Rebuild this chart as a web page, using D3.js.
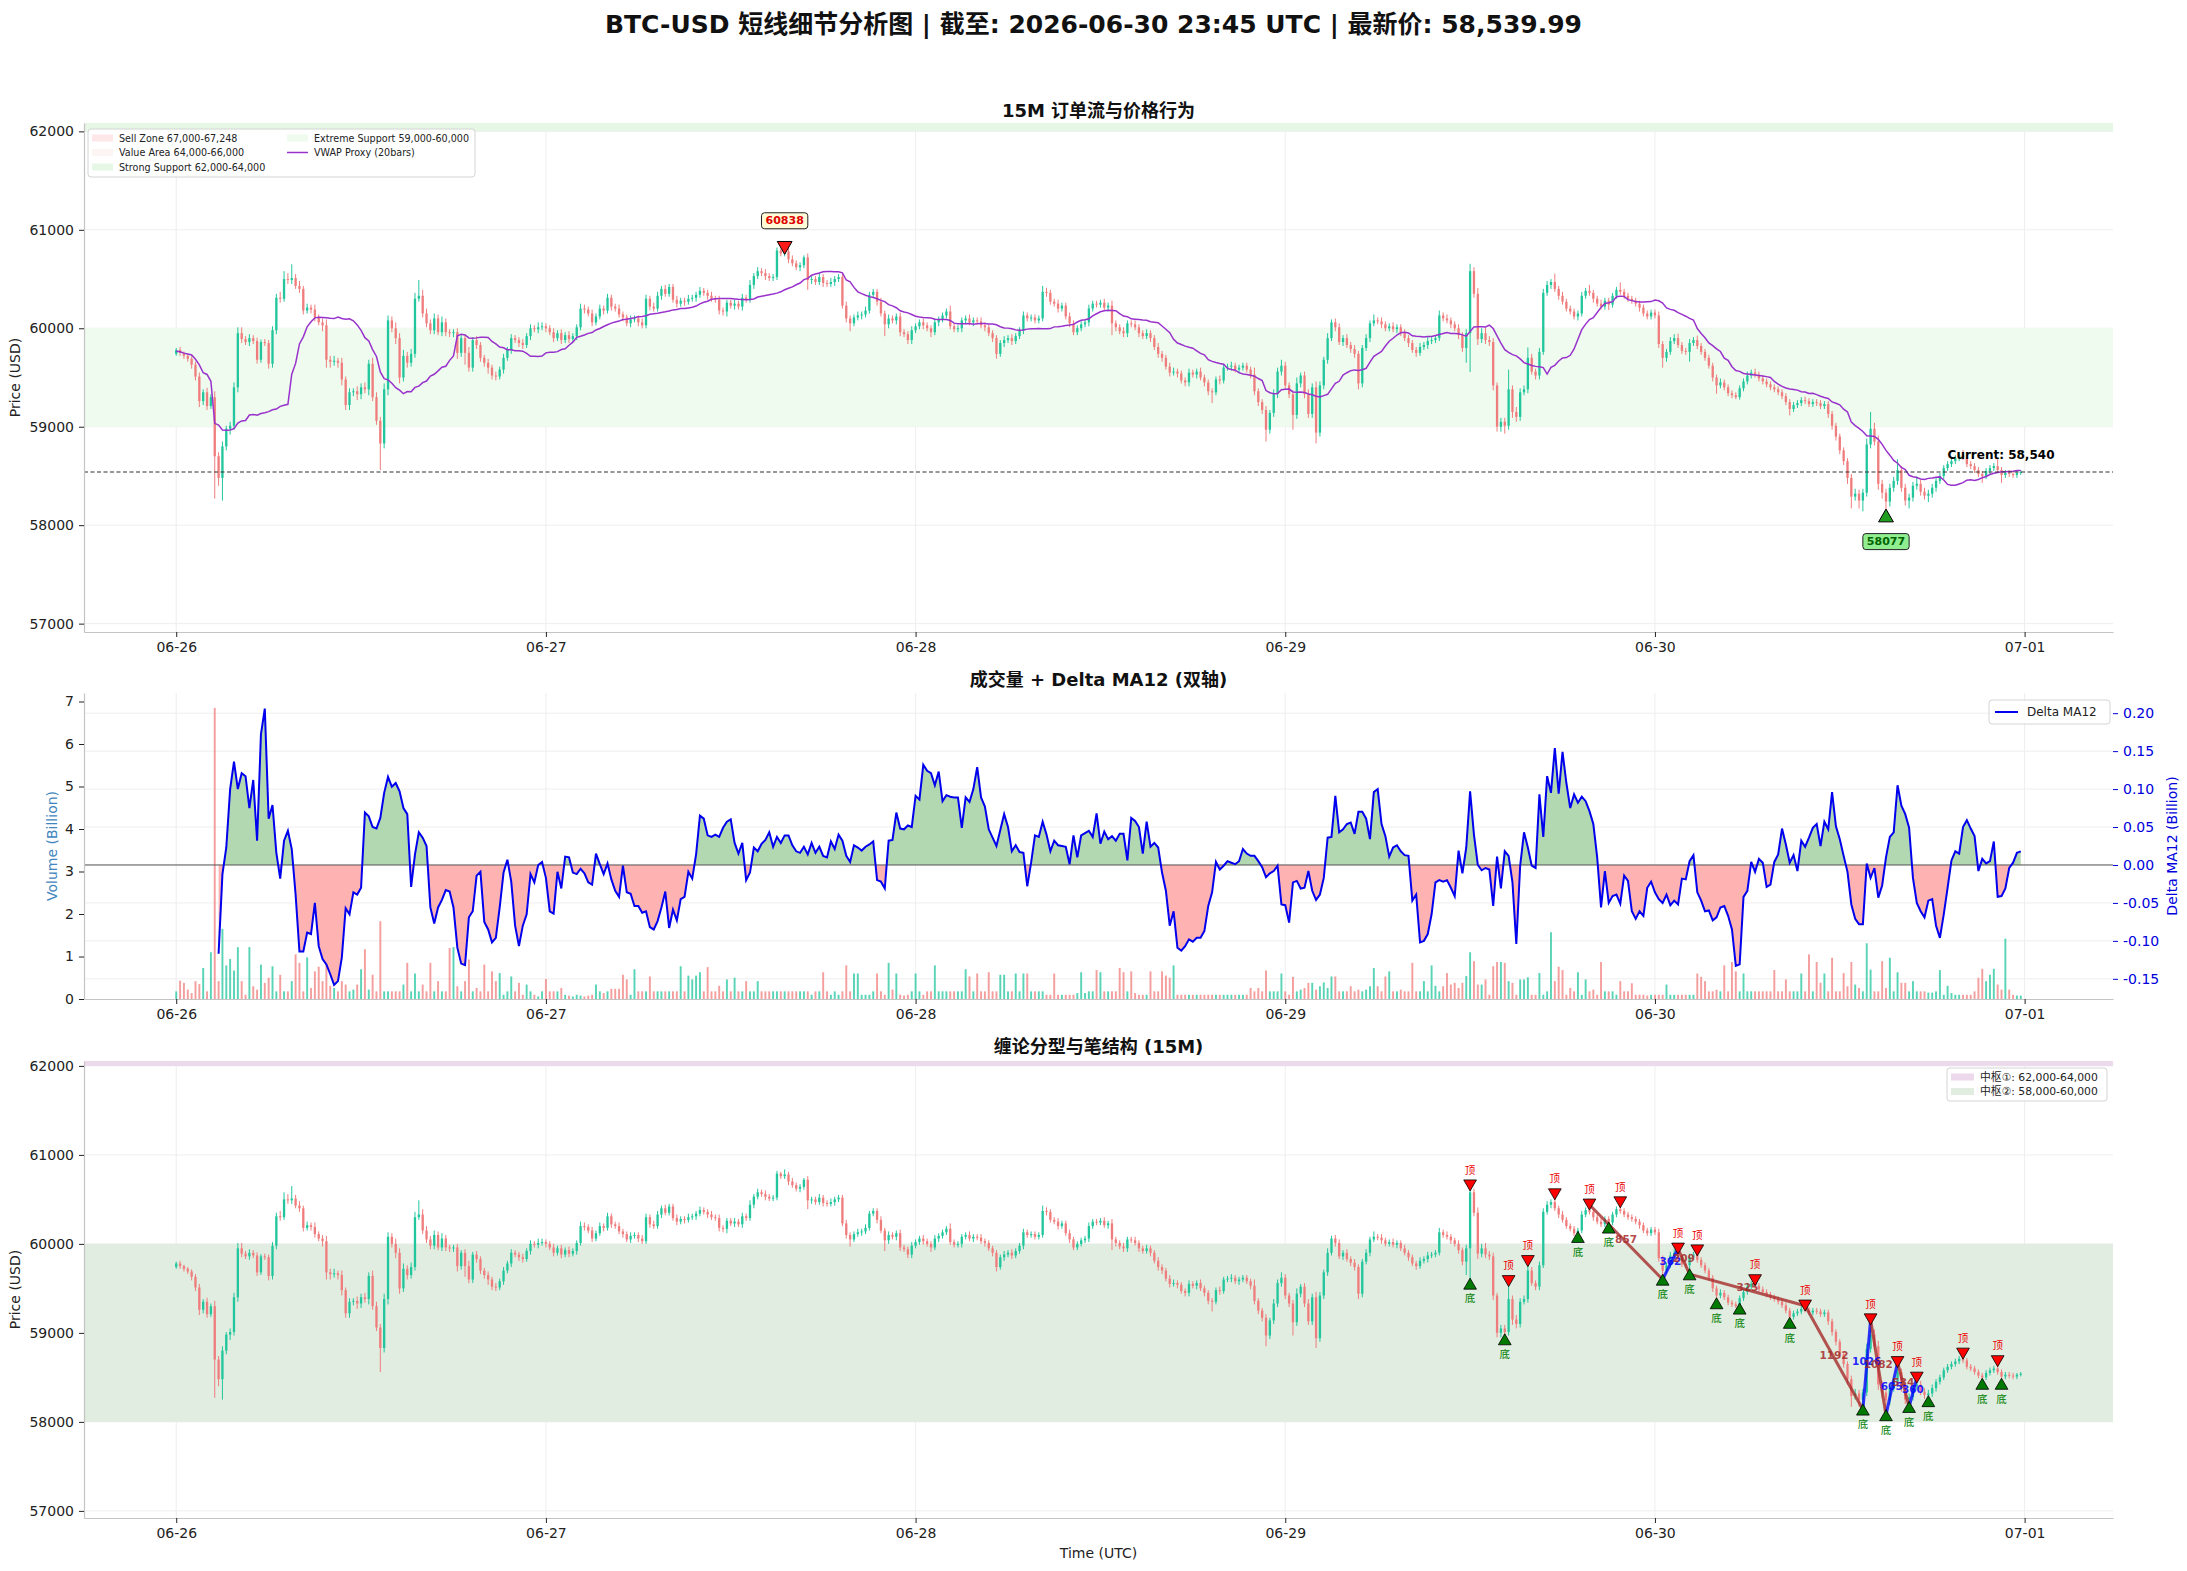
<!DOCTYPE html>
<html>
<head>
<meta charset="utf-8">
<script src="https://cdn.jsdelivr.net/npm/d3@7"></script>
<style>
  body { margin: 0; background: #fff; }
  svg { display: block; }
</style>
</head>
<body>
<svg id="chart" width="2187" height="1571"></svg>
<script>
// ---- data (15M bars, 2026-06-26 00:00 .. 06-30 23:45 UTC) ----
const startUTC = Date.UTC(2026, 5, 26, 0, 0);
const barMinutes = 15;
const firstOpen = 59740;

const closes = [
  59780,59750,59720,59690,59630,59510,59260,59350,59210,59300,58700,58480,58800,58980,59010,59400,59950,59890,59860,59900,59870,59680,59860,59850,
  59640,59980,60310,60300,60500,60490,60510,60430,60400,60180,60210,60190,60110,60060,60030,59680,59660,59670,59650,59480,59220,59350,59360,59330,
  59400,59380,59640,59300,59060,58830,59380,60080,60000,59900,59500,59720,59650,59740,60300,60330,60150,60050,59980,60100,59960,60060,59960,59950,
  59960,59750,59900,59750,59600,59880,59830,59700,59650,59600,59520,59510,59580,59700,59780,59900,59880,59850,59830,59920,60000,59990,60010,60020,
  60000,59960,59900,59950,59880,59930,59890,59920,60010,60200,60190,60150,60060,60120,60200,60180,60310,60220,60200,60140,60110,60050,60090,60100,
  60060,60030,60300,60220,60200,60330,60400,60350,60420,60290,60250,60280,60270,60300,60310,60340,60380,60360,60330,60300,60290,60180,60170,60260,
  60230,60250,60220,60310,60290,60440,60530,60580,60560,60530,60510,60520,60790,60760,60780,60700,60660,60620,60640,60720,60490,60500,60470,60520,
  60460,60450,60470,60500,60520,60230,60100,60050,60110,60130,60140,60180,60340,60370,60270,60150,60040,60100,60080,60120,59960,59940,59880,59980,
  60020,60060,60030,60000,59960,60060,60090,60130,60170,60020,59990,60000,60080,60100,60060,60080,60070,60030,60010,59950,59900,59740,59850,59880,
  59900,59870,59920,59980,60130,60100,60110,60080,60100,60370,60360,60270,60250,60200,60230,60120,60050,59960,60000,60040,60060,60200,60250,60240,
  60260,60210,60230,60050,60010,59970,59950,60050,60040,60010,59950,59920,59950,59900,59810,59740,59700,59610,59550,59560,59540,59470,59450,59550,
  59530,59560,59500,59450,59360,59350,59480,59470,59600,59610,59620,59580,59600,59620,59580,59530,59360,59250,59170,58970,59140,59330,59560,59620,
  59420,59330,59120,59440,59520,59330,59130,59400,58940,59420,59680,59900,60060,60010,59860,59900,59830,59790,59740,59440,59800,59900,60050,60080,
  60070,60040,60000,60020,59990,60010,59950,59900,59850,59780,59750,59810,59830,59870,59880,59900,60130,60100,60080,60040,60000,59930,59800,59950,
  60580,60350,59890,59950,59880,59860,59420,59000,59050,59010,59380,59150,59100,59350,59380,59700,59560,59520,59760,60360,60440,60470,60400,60330,
  60270,60200,60170,60120,60150,60330,60380,60360,60300,60250,60220,60280,60240,60330,60390,60370,60330,60300,60280,60250,60210,60150,60120,60160,
  60130,59840,59700,59760,59870,59900,59830,59770,59760,59850,59880,59820,59760,59700,59620,59500,59420,59450,59400,59340,59320,59300,59390,59460,
  59520,59550,59530,59490,59460,59430,59400,59380,59350,59310,59250,59180,59220,59240,59270,59260,59230,59250,59240,59210,59230,59130,59010,58900,
  58760,58650,58480,58290,58320,58250,58330,58820,58980,58850,58420,58330,58240,58380,58450,58560,58380,58250,58280,58400,58420,58340,58300,58320,
  58380,58450,58500,58580,58620,58650,58680,58710,58690,58620,58600,58560,58520,58500,58550,58580,58600,58560,58510,58530,58520,58510,58530,58540
];

// wick lengths in USD above the body top / below the body bottom
const upWicks = [
  20,30,15,20,25,30,40,30,45,30,60,40,50,30,40,50,60,60,30,40,30,35,25,30,
  30,40,40,60,80,60,140,40,50,30,40,30,50,30,40,60,40,50,30,50,30,40,30,50,
  40,50,40,60,50,40,60,50,40,60,50,60,40,50,60,160,60,50,40,50,40,60,40,30,
  30,40,30,40,60,30,40,30,30,40,30,40,30,40,30,40,30,30,40,30,40,30,50,40,
  30,30,40,30,40,30,40,30,30,50,40,30,40,30,40,30,40,30,30,40,30,30,40,30,
  30,40,40,30,40,40,30,40,30,30,40,30,30,40,30,30,40,30,30,40,30,40,30,30,
  30,40,30,40,30,50,30,40,30,40,30,30,30,20,58,30,40,30,30,20,40,30,30,40,
  30,30,40,30,30,30,40,30,30,40,30,40,30,30,30,40,30,40,30,30,40,30,30,40,
  30,30,40,30,30,40,30,30,30,60,30,30,30,30,40,30,30,40,30,30,30,30,30,40,
  30,40,30,30,40,30,30,30,30,60,40,30,30,40,30,30,40,30,30,30,30,40,30,30,
  30,40,30,50,30,30,40,30,30,40,30,30,40,30,30,40,30,30,40,40,30,30,30,40,
  30,30,40,30,30,30,30,40,30,30,40,30,30,30,30,30,70,30,30,40,30,50,40,60,
  40,30,40,60,30,40,50,40,60,40,30,50,30,40,40,30,40,30,40,30,30,40,30,60,
  30,40,30,30,40,30,30,40,30,30,30,40,30,40,30,30,50,30,40,30,30,40,30,40,
  75,40,60,50,60,40,40,30,40,40,200,40,50,40,40,105,40,30,40,40,40,30,85,30,
  40,30,30,30,30,40,30,60,30,30,40,30,30,30,30,75,30,30,30,30,30,30,30,30,
  30,40,30,30,40,40,45,30,30,40,30,45,30,30,30,30,30,40,30,30,30,30,30,30,
  40,30,40,30,30,30,30,30,30,30,30,30,30,30,30,35,30,30,30,30,30,30,30,30,
  30,30,30,40,50,40,40,60,170,60,60,40,40,40,40,110,40,40,40,40,75,40,40,40,
  40,30,30,30,30,30,30,30,55,30,30,30,30,30,30,30,30,80,30,30,30,30,20,20
];
const downWicks = [
  20,30,30,30,40,40,60,40,40,30,430,80,230,40,60,40,50,40,30,40,30,40,30,30,
  50,40,40,40,30,40,40,30,40,40,30,40,40,30,60,80,60,40,50,60,50,50,40,60,
  50,40,60,40,40,270,50,60,40,60,60,40,50,40,40,30,40,40,40,40,30,40,40,40,
  40,60,40,120,40,40,40,40,40,60,40,40,30,40,30,40,30,40,40,30,40,30,40,30,
  40,30,40,30,40,30,40,30,40,30,40,30,40,30,30,40,30,40,30,30,40,30,40,30,
  40,30,30,40,30,30,40,30,30,30,40,30,40,30,30,40,30,30,40,30,30,40,40,50,
  30,40,30,40,30,30,40,30,30,40,30,30,30,30,30,40,30,30,40,30,100,40,30,30,
  40,30,30,40,30,30,40,80,30,30,40,30,30,30,40,30,120,40,30,40,40,30,40,40,
  30,30,40,30,50,30,40,30,30,30,30,30,40,30,30,40,30,30,40,30,40,50,30,40,
  30,40,30,30,40,30,30,30,30,30,40,30,30,40,30,30,40,30,30,30,30,40,30,30,
  30,30,40,120,40,30,40,40,30,30,40,30,30,40,30,40,40,30,40,30,40,30,40,40,
  30,40,30,40,40,110,30,40,30,30,40,30,40,30,30,40,40,40,40,120,40,40,40,40,
  40,40,150,40,40,40,40,40,110,40,40,40,30,40,30,40,30,40,40,60,40,30,40,30,
  30,40,30,30,30,40,30,30,40,30,40,30,30,40,30,30,30,30,30,40,30,40,40,150,
  395,40,60,40,40,40,50,50,50,80,40,60,50,40,30,40,30,40,40,30,30,40,30,40,
  30,30,30,30,40,30,30,30,40,30,30,30,55,30,30,30,30,30,30,30,40,30,30,30,
  30,40,100,40,30,30,30,30,30,100,30,30,30,30,30,40,85,30,30,30,30,20,25,30,
  30,30,30,30,30,30,30,30,30,30,30,65,30,30,30,30,30,30,30,30,30,40,40,40,
  40,40,60,120,40,80,110,40,40,40,60,60,163,50,40,40,40,50,80,40,40,40,40,65,
  40,40,30,30,30,30,30,30,30,30,30,30,30,70,30,30,30,30,80,30,30,30,30,20
];

// volume in billions
const volumes = [
  0.18,0.43,0.38,0.22,0.14,0.42,0.35,0.73,0.18,1.10,6.85,0.42,1.65,0.79,0.94,0.67,1.22,0.42,0.10,1.22,0.30,0.22,0.81,0.38,
  0.50,0.77,0.18,0.57,0.18,0.18,0.42,1.05,0.85,0.18,0.98,0.26,0.65,0.76,0.42,0.93,0.31,0.26,0.18,0.42,0.34,0.18,0.22,0.34,
  0.70,1.17,0.22,0.57,0.18,1.83,0.18,0.18,0.18,0.18,0.18,0.34,0.85,0.18,0.60,0.18,0.34,0.18,0.85,0.18,0.42,0.18,0.18,1.20,
  1.22,0.30,0.18,0.42,0.93,0.18,0.26,0.18,0.81,0.18,0.65,0.42,0.61,0.10,0.18,0.53,0.18,0.38,0.10,0.34,0.18,0.10,0.06,0.18,
  0.47,0.18,0.18,0.18,0.26,0.10,0.08,0.06,0.10,0.08,0.06,0.08,0.10,0.34,0.18,0.14,0.18,0.24,0.24,0.24,0.57,0.46,0.10,0.70,
  0.18,0.18,0.18,0.53,0.18,0.18,0.18,0.18,0.18,0.18,0.18,0.77,0.18,0.55,0.46,0.55,0.63,0.18,0.75,0.18,0.18,0.31,0.18,0.46,
  0.18,0.50,0.18,0.18,0.42,0.18,0.18,0.42,0.18,0.18,0.18,0.18,0.18,0.18,0.18,0.18,0.18,0.18,0.18,0.18,0.18,0.10,0.18,0.18,
  0.63,0.18,0.10,0.18,0.10,0.18,0.79,0.18,0.60,0.60,0.10,0.10,0.10,0.18,0.60,0.18,0.10,0.85,0.22,0.60,0.10,0.08,0.10,0.18,
  0.60,0.18,0.10,0.18,0.18,0.79,0.18,0.18,0.18,0.18,0.18,0.18,0.18,0.70,0.53,0.18,0.60,0.18,0.18,0.63,0.18,0.18,0.57,0.57,
  0.18,0.18,0.60,0.18,0.60,0.60,0.18,0.18,0.18,0.18,0.10,0.10,0.60,0.10,0.10,0.10,0.10,0.10,0.14,0.63,0.14,0.18,0.18,0.68,
  0.63,0.18,0.18,0.18,0.18,0.73,0.63,0.18,0.65,0.14,0.10,0.10,0.10,0.65,0.18,0.18,0.65,0.55,0.50,0.79,0.10,0.10,0.10,0.10,
  0.10,0.10,0.10,0.10,0.10,0.10,0.10,0.10,0.10,0.10,0.10,0.10,0.10,0.10,0.10,0.26,0.18,0.26,0.18,0.67,0.18,0.18,0.18,0.60,
  0.18,0.10,0.52,0.18,0.22,0.26,0.38,0.38,0.22,0.30,0.39,0.26,0.53,0.53,0.18,0.18,0.18,0.30,0.18,0.22,0.18,0.22,0.30,0.73,
  0.30,0.18,0.53,0.65,0.18,0.18,0.22,0.18,0.18,0.85,0.18,0.18,0.42,0.18,0.79,0.31,0.18,0.30,0.61,0.34,0.38,0.26,0.38,0.54,
  1.10,0.89,0.34,0.34,0.46,0.10,0.77,0.87,0.87,0.85,0.42,0.38,0.10,0.46,0.46,0.51,0.10,0.10,0.61,0.10,0.18,1.57,0.42,0.76,
  0.68,0.10,0.26,0.18,0.63,0.10,0.46,0.18,0.22,0.10,0.87,0.18,0.18,0.18,0.10,0.42,0.18,0.18,0.37,0.10,0.10,0.10,0.08,0.10,
  0.10,0.10,0.10,0.34,0.10,0.10,0.10,0.10,0.10,0.10,0.10,0.60,0.52,0.42,0.18,0.18,0.22,0.18,0.79,0.18,0.87,0.65,0.18,0.60,
  0.18,0.18,0.18,0.18,0.18,0.18,0.18,0.68,0.18,0.18,0.46,0.18,0.18,0.18,0.60,0.18,1.05,0.18,0.87,0.38,0.60,0.18,0.97,0.18,
  0.18,0.61,0.30,0.87,0.34,0.26,0.18,1.31,0.69,0.18,0.18,0.89,0.26,0.97,0.18,0.63,0.38,0.38,0.18,0.42,0.18,0.18,0.18,0.15,
  0.15,0.18,0.68,0.10,0.31,0.14,0.10,0.10,0.10,0.10,0.10,0.18,0.50,0.71,0.42,0.57,0.71,0.34,0.22,1.42,0.22,0.10,0.08,0.08
];

// Delta MA12 (billions), first value belongs to bar 11
const deltaStart = 11;
const deltaMA12 = [
  -0.117,-0.012,0.023,0.100,0.136,0.100,0.121,0.117,0.075,0.112,0.032,0.172,0.206,0.061,0.079,0.016,-0.018,0.032,0.045,0.021,-0.039,-0.114,-0.114,-0.089,
  -0.091,-0.050,-0.107,-0.124,-0.131,-0.144,-0.158,-0.153,-0.122,-0.057,-0.065,-0.036,-0.039,-0.030,0.069,0.064,0.050,0.048,0.062,0.095,0.116,0.103,0.108,0.097,
  0.075,0.067,-0.029,0.014,0.043,0.036,0.025,-0.056,-0.077,-0.056,-0.046,-0.033,-0.035,-0.056,-0.109,-0.130,-0.132,-0.069,-0.061,-0.014,-0.009,-0.075,-0.085,-0.102,
  -0.096,-0.056,-0.010,0.007,-0.022,-0.080,-0.107,-0.080,-0.065,-0.012,-0.023,0.000,0.004,-0.017,-0.061,-0.064,-0.009,-0.031,0.011,0.010,-0.010,-0.012,-0.005,-0.011,
  -0.023,-0.026,0.015,0.001,-0.012,0.002,-0.019,-0.034,-0.042,-0.001,-0.036,-0.038,-0.054,-0.054,-0.063,-0.061,-0.082,-0.085,-0.074,-0.056,-0.035,-0.083,-0.059,-0.073,
  -0.045,-0.042,-0.009,-0.018,0.014,0.065,0.061,0.039,0.037,0.040,0.037,0.049,0.057,0.060,0.029,0.015,0.029,-0.020,-0.010,0.023,0.018,0.028,0.033,0.043,
  0.024,0.037,0.029,0.039,0.039,0.026,0.018,0.016,0.024,0.014,0.029,0.016,0.024,0.012,0.010,0.031,0.021,0.040,0.032,0.012,0.004,0.026,0.023,0.019,
  0.024,0.027,0.031,-0.020,-0.022,-0.031,0.032,0.033,0.069,0.048,0.047,0.052,0.050,0.091,0.086,0.132,0.124,0.121,0.105,0.123,0.084,0.092,0.090,0.089,
  0.089,0.049,0.089,0.083,0.100,0.129,0.089,0.077,0.047,0.036,0.025,0.046,0.067,0.050,0.018,0.026,0.017,0.016,-0.028,0.003,0.039,0.037,0.057,0.040,
  0.018,0.032,0.026,0.025,0.024,0.001,0.039,0.010,0.039,0.042,0.045,0.037,0.068,0.028,0.044,0.034,0.038,0.032,0.041,0.041,0.006,0.062,0.058,0.050,
  0.015,0.057,0.024,0.029,0.023,-0.010,-0.034,-0.080,-0.061,-0.109,-0.113,-0.107,-0.098,-0.101,-0.096,-0.096,-0.087,-0.054,-0.036,0.004,-0.006,-0.001,0.005,0.003,
  0.001,0.005,0.021,0.015,0.012,0.012,0.005,-0.003,-0.016,-0.011,-0.008,-0.001,-0.052,-0.053,-0.076,-0.023,-0.021,-0.031,-0.030,-0.008,-0.034,-0.046,-0.039,-0.017,
  0.036,0.037,0.091,0.043,0.047,0.054,0.056,0.041,0.070,0.070,0.061,0.034,0.096,0.100,0.054,0.038,0.011,0.023,0.026,0.018,0.013,0.012,-0.047,-0.039,
  -0.102,-0.100,-0.091,-0.065,-0.023,-0.020,-0.022,-0.020,-0.030,-0.041,0.019,-0.011,0.023,0.097,0.040,0.000,-0.007,-0.004,-0.006,-0.054,0.011,-0.031,0.018,0.012,
  -0.023,-0.104,-0.001,0.043,0.023,-0.001,-0.004,0.093,0.037,0.117,0.095,0.154,0.094,0.149,0.108,0.075,0.093,0.082,0.090,0.084,0.071,0.054,0.010,-0.056,
  -0.008,-0.050,-0.041,-0.039,-0.051,-0.014,-0.021,-0.061,-0.071,-0.061,-0.067,-0.030,-0.022,-0.036,-0.045,-0.050,-0.039,-0.053,-0.047,-0.052,-0.018,-0.019,0.005,0.013,
  -0.036,-0.047,-0.061,-0.060,-0.073,-0.069,-0.056,-0.054,-0.067,-0.085,-0.133,-0.131,-0.042,-0.034,0.004,-0.009,0.008,0.003,-0.029,-0.026,0.004,0.014,0.048,0.027,
  0.003,0.013,-0.008,0.032,0.024,0.036,0.049,0.054,0.025,0.057,0.047,0.096,0.051,0.034,0.012,-0.009,-0.052,-0.071,-0.078,-0.078,0.002,-0.017,-0.004,-0.043,
  -0.027,0.010,0.037,0.043,0.105,0.078,0.067,0.049,-0.017,-0.050,-0.061,-0.069,-0.047,-0.045,-0.080,-0.096,-0.065,-0.030,0.006,0.018,0.015,0.050,0.059,0.048,
  0.038,-0.008,0.008,0.002,0.005,0.031,-0.042,-0.041,-0.031,-0.004,0.003,0.016,0.018
];

const dayTicks = ['2026-06-26','2026-06-27','2026-06-28','2026-06-29','2026-06-30','2026-07-01'];
const priceTicks = [57000, 58000, 59000, 60000, 61000, 62000];
const volumeTicks = [0, 1, 2, 3, 4, 5, 6, 7];
const deltaTicks = [-0.15, -0.10, -0.05, 0, 0.05, 0.10, 0.15, 0.20];
const currentPrice = 58539.99;

// order-flow zones (panel 1)
const zoneLabels = ['Sell Zone 67,000-67,248', 'Value Area 64,000-66,000', 'Strong Support 62,000-64,000', 'Extreme Support 59,000-60,000'];
const zoneRanges = [[67000, 67248], [64000, 66000], [62000, 64000], [59000, 60000]];
const zoneColors = ['#fde7e9', '#fdf4f4', '#e6f7e6', '#eefbee'];
// Chan pivots (panel 3)
const pivotLabels = ['中枢①: 62,000-64,000', '中枢②: 58,000-60,000'];
const pivotRanges = [[62000, 64000], [58000, 60000]];
const pivotColors = ['#ecdaec', '#e0ede0'];

// fractal bars (top = 顶, bottom = 底) and strokes [from, to, label]
const topFractals = [336, 346, 351, 358, 367, 375, 390, 395, 410, 423, 440, 447, 452, 464, 473];
const bottomFractals = [336, 345, 364, 372, 386, 393, 400, 406, 419, 438, 444, 450, 455, 469, 474];
const strokes = [
  [367, 386, '857'], [386, 390, '362'], [390, 393, '209'], [393, 423, '325'], [423, 438, '1192'],
  [438, 440, '1026'], [440, 444, '1082'], [444, 447, '605'], [447, 450, '534'], [450, 452, '360']
];

// ---- build ----
const FONT = '"DejaVu Sans","Noto Sans CJK SC",sans-serif';
const UP = '#22c69d', DOWN = '#f07d7d';
const W = 2187, H = 1571;
const L = 84, R = 2113;
const P1 = {top: 123, bottom: 632}, P2 = {top: 693, bottom: 999}, P3 = {top: 1061, bottom: 1518};

const candles = closes.map((c, i) => {
  const o = i === 0 ? firstOpen : closes[i - 1];
  return {
    i, t: new Date(startUTC + i * barMinutes * 60000), o, c,
    h: Math.max(o, c) + upWicks[i], l: Math.min(o, c) - downWicks[i], v: volumes[i]
  };
});

// rolling 20-bar volume weighted typical price
const vwap = candles.map((d, i) => {
  const win = candles.slice(Math.max(0, i - 19), i + 1);
  return d3.sum(win, w => (w.h + w.l + w.c) / 3 * w.v) / d3.sum(win, w => w.v);
});

const t0 = candles[0].t.getTime(), t1 = candles[candles.length - 1].t.getTime();
const pad = (t1 - t0) * 0.05;
const x = d3.scaleUtc().domain([t0 - pad, t1 + pad]).range([L, R]);
const slot = x(new Date(t0 + barMinutes * 60000)) - x(new Date(t0));
const dayDates = dayTicks.map(s => new Date(s + 'T00:00:00Z'));

const y1 = d3.scaleLinear().domain([56915, 62085]).range([P1.bottom, P1.top]);
const yv = d3.scaleLinear().domain([0, 7.2]).range([P2.bottom, P2.top]);
const yd = d3.scaleLinear().domain([-0.1766, 0.2266]).range([P2.bottom, P2.top]);
const y3 = d3.scaleLinear().domain([56920, 62055]).range([P3.bottom, P3.top]);

const svg = d3.select('#chart').attr('font-family', FONT);
svg.append('rect').attr('width', W).attr('height', H).attr('fill', '#fff');
const defs = svg.append('defs');

function clip(id, y0, y1_) {
  defs.append('clipPath').attr('id', id).append('rect')
    .attr('x', L).attr('y', y0).attr('width', R - L).attr('height', y1_ - y0);
  return `url(#${id})`;
}

function vGrid(g, p) {
  g.selectAll(null).data(dayDates).join('line')
    .attr('x1', d => x(d)).attr('x2', d => x(d)).attr('y1', p.top).attr('y2', p.bottom)
    .attr('stroke', '#eeeeee').attr('stroke-width', 1);
}
function hGrid(g, scale, ticks) {
  g.selectAll(null).data(ticks).join('line')
    .attr('x1', L).attr('x2', R).attr('y1', d => scale(d)).attr('y2', d => scale(d))
    .attr('stroke', '#eeeeee').attr('stroke-width', 1);
}

function styleAxis(sel, color, hideDomain) {
  sel.attr('font-size', 14).attr('font-family', FONT);
  sel.select('.domain').attr('stroke', hideDomain ? 'none' : '#c4c4c4').attr('stroke-width', 1.2);
  sel.selectAll('.tick line').attr('stroke', color);
  sel.selectAll('.tick text').attr('fill', color);
}

function xAxis(p) {
  svg.append('g').attr('transform', `translate(0,${p.bottom})`)
    .call(d3.axisBottom(x).tickValues(dayDates).tickFormat(d3.utcFormat('%m-%d')).tickSize(5).tickSizeOuter(0).tickPadding(5))
    .call(s => styleAxis(s, '#222'));
}

function drawCandles(g, y) {
  const bw = slot * 0.6;
  g.selectAll(null).data(candles).join('line')
    .attr('x1', d => x(d.t)).attr('x2', d => x(d.t))
    .attr('y1', d => y(d.h)).attr('y2', d => y(d.l))
    .attr('stroke', d => d.c >= d.o ? UP : DOWN).attr('stroke-width', 1);
  g.selectAll(null).data(candles).join('rect')
    .attr('x', d => x(d.t) - bw / 2).attr('width', bw)
    .attr('y', d => y(Math.max(d.o, d.c)))
    .attr('height', d => Math.max(1, Math.abs(y(d.o) - y(d.c))))
    .attr('fill', d => d.c >= d.o ? UP : DOWN);
}

function title(txt, cx, cy, size) {
  svg.append('text').attr('x', cx).attr('y', cy).attr('text-anchor', 'middle')
    .attr('dominant-baseline', 'central').attr('font-size', size).attr('font-weight', 'bold')
    .attr('fill', '#111').text(txt);
}
function yLabel(txt, cx, cy, color) {
  svg.append('text').attr('transform', `translate(${cx},${cy}) rotate(-90)`)
    .attr('text-anchor', 'middle').attr('dominant-baseline', 'central')
    .attr('font-size', 14).attr('fill', color).text(txt);
}

const tri = d3.symbol().type(d3.symbolTriangle);

// ---- title ----
title('BTC-USD 短线细节分析图 | 截至: 2026-06-30 23:45 UTC | 最新价: 58,539.99', W / 2, 24, 25);

// ================= panel 1 =================
title('15M 订单流与价格行为', (L + R) / 2, 110, 18);
const g1 = svg.append('g').attr('clip-path', clip('c1', P1.top, P1.bottom));
vGrid(g1, P1);
hGrid(g1, y1, priceTicks);
zoneRanges.forEach((r, k) => {
  g1.append('rect').attr('x', L).attr('width', R - L)
    .attr('y', y1(r[1])).attr('height', y1(r[0]) - y1(r[1])).attr('fill', zoneColors[k]);
});
drawCandles(g1.append('g'), y1);
g1.append('path').datum(vwap)
  .attr('d', d3.line().x((v, i) => x(candles[i].t)).y(v => y1(v)))
  .attr('fill', 'none').attr('stroke', '#9932cc').attr('stroke-width', 1.5);
g1.append('line').attr('x1', L).attr('x2', R).attr('y1', y1(currentPrice)).attr('y2', y1(currentPrice))
  .attr('stroke', '#333').attr('stroke-width', 1.1).attr('stroke-dasharray', '4,2.5');

svg.append('g').attr('transform', `translate(${L},0)`)
  .call(d3.axisLeft(y1).tickValues(priceTicks).tickFormat(d3.format('d')).tickSize(5).tickSizeOuter(0).tickPadding(5))
  .call(s => styleAxis(s, '#222'));
xAxis(P1);
yLabel('Price (USD)', 15, (P1.top + P1.bottom) / 2, '#222');

// extremes
const hiBar = candles.reduce((a, b) => b.h > a.h ? b : a);
const loBar = candles.reduce((a, b) => b.l < a.l ? b : a);
function markerLabel(d, value, up) {
  const cx = x(d.t), cy = y1(value);
  svg.append('path').attr('d', tri.size(95)())
    .attr('transform', `translate(${cx},${cy}) rotate(${up ? 0 : 180})`)
    .attr('fill', up ? '#1f9e1f' : '#ff1a1a').attr('stroke', '#000').attr('stroke-width', 1);
  const ly = up ? cy + 24 : cy - 25;
  const g = svg.append('g');
  const t = g.append('text').attr('x', cx).attr('y', ly).attr('text-anchor', 'middle')
    .attr('dominant-baseline', 'central').attr('font-size', 11).attr('font-weight', 'bold')
    .attr('fill', up ? '#006400' : '#e00000').text(Math.round(value));
  const w = t.node().getComputedTextLength() + 8;
  g.insert('rect', 'text').attr('x', cx - w / 2).attr('y', ly - 8).attr('width', w).attr('height', 16)
    .attr('rx', 3).attr('fill', up ? '#90ee90' : '#fffbd6').attr('stroke', '#222').attr('stroke-width', 1);
}
markerLabel(hiBar, hiBar.h, false);
markerLabel(loBar, loBar.l, true);

svg.append('text').attr('x', x(candles[460].t)).attr('y', 459)
  .attr('font-size', 12).attr('font-weight', 'bold').attr('fill', '#000')
  .text('Current: ' + d3.format(',')(Math.round(currentPrice)));

// legend panel 1
const lg1 = svg.append('g');
lg1.append('rect').attr('x', 88).attr('y', 129).attr('width', 387).attr('height', 48).attr('rx', 3)
  .attr('fill', '#fff').attr('fill-opacity', 0.85).attr('stroke', '#d4d4d4');
const legendSlots = [[92, 138], [92, 152.5], [92, 167], [287, 138]];
zoneLabels.forEach((lab, k) => {
  const [lx, ly] = legendSlots[k];
  lg1.append('rect').attr('x', lx).attr('y', ly - 3.5).attr('width', 21).attr('height', 7).attr('fill', zoneColors[k]);
  lg1.append('text').attr('x', lx + 27).attr('y', ly).attr('dominant-baseline', 'central')
    .attr('font-size', 9.6).attr('fill', '#222').text(lab);
});
lg1.append('line').attr('x1', 287).attr('x2', 308).attr('y1', 152.5).attr('y2', 152.5)
  .attr('stroke', '#9932cc').attr('stroke-width', 1.5);
lg1.append('text').attr('x', 314).attr('y', 152.5).attr('dominant-baseline', 'central')
  .attr('font-size', 9.6).attr('fill', '#222').text('VWAP Proxy (20bars)');

// ================= panel 2 =================
title('成交量 + Delta MA12 (双轴)', (L + R) / 2, 679, 18);
const g2 = svg.append('g').attr('clip-path', clip('c2', P2.top, P2.bottom));
vGrid(g2, P2);
hGrid(g2, yd, deltaTicks);
const vw = slot * 0.5;
g2.selectAll(null).data(candles).join('rect')
  .attr('x', d => x(d.t) - vw / 2).attr('width', vw)
  .attr('y', d => yv(d.v)).attr('height', d => yv(0) - yv(d.v))
  .attr('fill', d => d.c >= d.o ? UP : DOWN).attr('fill-opacity', 0.75);

const deltaPts = deltaMA12.map((v, k) => ({t: candles[deltaStart + k].t, v}));
const zeroY = yd(0);
defs.append('clipPath').attr('id', 'dpos').append('rect').attr('x', L).attr('y', P2.top).attr('width', R - L).attr('height', zeroY - P2.top);
defs.append('clipPath').attr('id', 'dneg').append('rect').attr('x', L).attr('y', zeroY).attr('width', R - L).attr('height', P2.bottom - zeroY);
const deltaArea = d3.area().x(d => x(d.t)).y0(zeroY).y1(d => yd(d.v));
g2.append('path').datum(deltaPts).attr('d', deltaArea).attr('fill', '#b2d8b2').attr('clip-path', 'url(#dpos)');
g2.append('path').datum(deltaPts).attr('d', deltaArea).attr('fill', '#ffb2b2').attr('clip-path', 'url(#dneg)');
g2.append('line').attr('x1', L).attr('x2', R).attr('y1', zeroY).attr('y2', zeroY)
  .attr('stroke', '#555').attr('stroke-width', 1);
g2.append('path').datum(deltaPts)
  .attr('d', d3.line().x(d => x(d.t)).y(d => yd(d.v)))
  .attr('fill', 'none').attr('stroke', '#0000ee').attr('stroke-width', 2);

svg.append('g').attr('transform', `translate(${L},0)`)
  .call(d3.axisLeft(yv).tickValues(volumeTicks).tickFormat(d3.format('d')).tickSize(5).tickSizeOuter(0).tickPadding(5))
  .call(s => styleAxis(s, '#222'));
const fmtDelta = d3.format('.2f');
svg.append('g').attr('transform', `translate(${R},0)`)
  .call(d3.axisRight(yd).tickValues(deltaTicks).tickFormat(v => fmtDelta(v).replace('\u2212', '-')).tickSize(5).tickSizeOuter(0).tickPadding(5))
  .call(s => styleAxis(s, '#0000dd', true));
xAxis(P2);
yLabel('Volume (Billion)', 52, (P2.top + P2.bottom) / 2, '#3f86c0');
yLabel('Delta MA12 (Billion)', 2172, (P2.top + P2.bottom) / 2, '#0000dd');

const lg2 = svg.append('g');
lg2.append('rect').attr('x', 1989).attr('y', 700).attr('width', 121).attr('height', 24).attr('rx', 3)
  .attr('fill', '#fff').attr('fill-opacity', 0.85).attr('stroke', '#d4d4d4');
lg2.append('line').attr('x1', 1995).attr('x2', 2018).attr('y1', 712).attr('y2', 712)
  .attr('stroke', '#0000ee').attr('stroke-width', 2);
lg2.append('text').attr('x', 2027).attr('y', 712).attr('dominant-baseline', 'central')
  .attr('font-size', 12).attr('fill', '#222').text('Delta MA12');

// ================= panel 3 =================
title('缠论分型与笔结构 (15M)', (L + R) / 2, 1046, 18);
const g3 = svg.append('g').attr('clip-path', clip('c3', P3.top, P3.bottom));
vGrid(g3, P3);
hGrid(g3, y3, priceTicks);
pivotRanges.forEach((r, k) => {
  g3.append('rect').attr('x', L).attr('width', R - L)
    .attr('y', y3(r[1])).attr('height', y3(r[0]) - y3(r[1])).attr('fill', pivotColors[k]);
});
drawCandles(g3.append('g'), y3);

const isTop = new Set(topFractals);
const strokeGeom = strokes.map(([a, b, lab]) => {
  const pa = isTop.has(a) ? candles[a].h : candles[a].l;
  const pb = isTop.has(b) ? candles[b].h : candles[b].l;
  return {a, b, lab, pa, pb, color: pb < pa ? '#a52a2a' : '#0000ff'};
});
strokeGeom.forEach(s => {
  g3.append('line').attr('x1', x(candles[s.a].t)).attr('y1', y3(s.pa))
    .attr('x2', x(candles[s.b].t)).attr('y2', y3(s.pb))
    .attr('stroke', s.color).attr('stroke-opacity', 0.8).attr('stroke-width', 3);
});
strokeGeom.forEach(s => {
  g3.append('text').attr('x', (x(candles[s.a].t) + x(candles[s.b].t)) / 2)
    .attr('y', (y3(s.pa) + y3(s.pb)) / 2 - 3).attr('text-anchor', 'middle')
    .attr('dominant-baseline', 'central').attr('font-size', 10.5).attr('font-weight', 'bold')
    .attr('fill', s.color).attr('fill-opacity', 0.85).text(s.lab);
});
topFractals.forEach(i => {
  const cx = x(candles[i].t), cy = y3(candles[i].h) - 2;
  g3.append('path').attr('d', tri.size(70)()).attr('transform', `translate(${cx},${cy}) rotate(180)`)
    .attr('fill', '#ff0000').attr('stroke', '#000').attr('stroke-width', 0.8);
  g3.append('text').attr('x', cx).attr('y', cy - 14).attr('text-anchor', 'middle')
    .attr('dominant-baseline', 'central').attr('font-size', 10.5).attr('fill', '#ee0000').text('顶');
});
bottomFractals.forEach(i => {
  const cx = x(candles[i].t), cy = y3(candles[i].l) + 2;
  g3.append('path').attr('d', tri.size(70)()).attr('transform', `translate(${cx},${cy})`)
    .attr('fill', '#007a00').attr('stroke', '#000').attr('stroke-width', 0.8);
  g3.append('text').attr('x', cx).attr('y', cy + 13).attr('text-anchor', 'middle')
    .attr('dominant-baseline', 'central').attr('font-size', 10.5).attr('fill', '#008000').text('底');
});

svg.append('g').attr('transform', `translate(${L},0)`)
  .call(d3.axisLeft(y3).tickValues(priceTicks).tickFormat(d3.format('d')).tickSize(5).tickSizeOuter(0).tickPadding(5))
  .call(s => styleAxis(s, '#222'));
xAxis(P3);
yLabel('Price (USD)', 15, (P3.top + P3.bottom) / 2, '#222');
svg.append('text').attr('x', (L + R) / 2).attr('y', 1553).attr('text-anchor', 'middle')
  .attr('dominant-baseline', 'central').attr('font-size', 14).attr('fill', '#222').text('Time (UTC)');

const lg3 = svg.append('g');
lg3.append('rect').attr('x', 1947).attr('y', 1068).attr('width', 160).attr('height', 33).attr('rx', 3)
  .attr('fill', '#fff').attr('fill-opacity', 0.85).attr('stroke', '#d4d4d4');
pivotLabels.forEach((lab, k) => {
  const ly = 1077 + k * 14.5;
  lg3.append('rect').attr('x', 1951).attr('y', ly - 3.5).attr('width', 23).attr('height', 7).attr('fill', pivotColors[k]);
  lg3.append('text').attr('x', 1980).attr('y', ly).attr('dominant-baseline', 'central')
    .attr('font-size', 10.8).attr('fill', '#222').text(lab);
});
</script>
</body>
</html>
